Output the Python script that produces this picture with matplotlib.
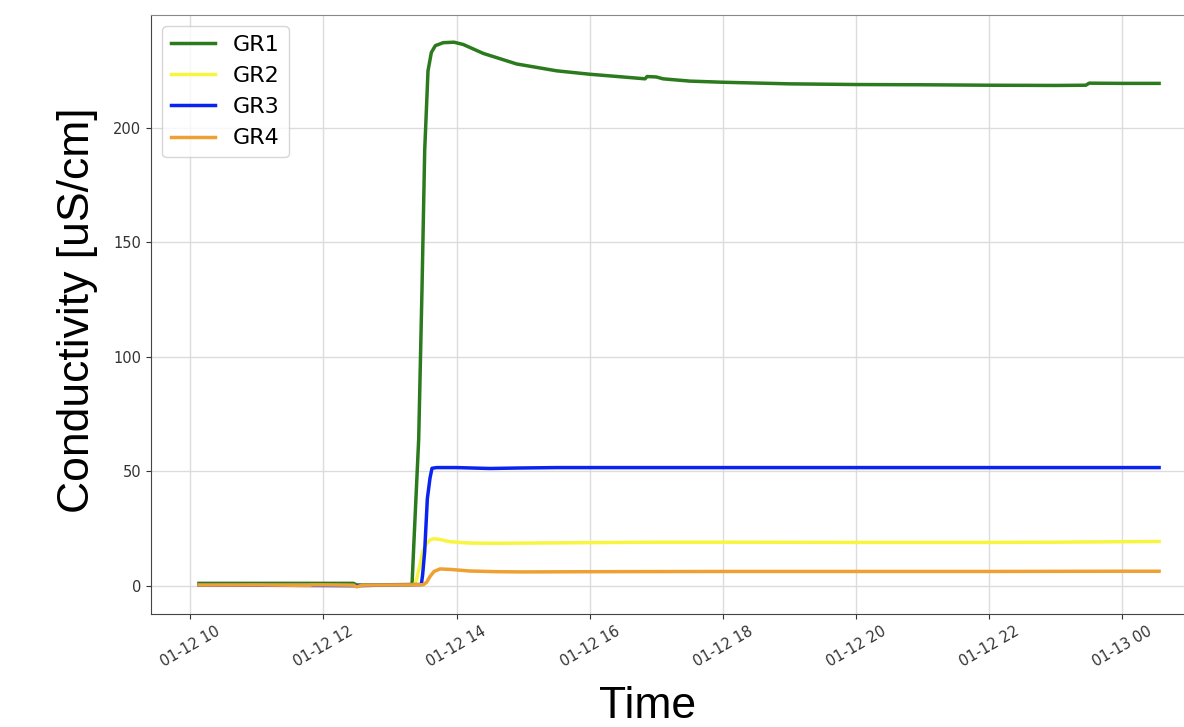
import numpy as np
import pandas as pd
import matplotlib
matplotlib.use("Agg")
import matplotlib.pyplot as plt
import matplotlib.dates as mdates

# Readings, time given as hours since midnight of 01-12
gr1_hours = [10.13, 11.0, 11.8, 12.0, 12.45, 12.5, 13.0, 13.33, 13.36, 13.43, 13.48, 13.52,
             13.57, 13.62, 13.68, 13.8, 13.96, 14.1, 14.4, 14.9, 15.5, 16.0, 16.5, 16.83,
             16.86, 17.0, 17.1, 17.5, 18.0, 19.0, 20.0, 21.0, 22.0, 23.0, 23.45, 23.5, 24.0, 24.55]
gr1_vals = [1.0, 1.0, 1.0, 1.0, 1.0, 0.3, 0.4, 0.5, 20, 64, 130, 190,
            225, 233, 236, 237.3, 237.5, 236.5, 232.6, 228, 225, 223.5, 222.3, 221.5,
            222.5, 222.3, 221.5, 220.5, 220, 219.3, 219, 218.9, 218.7, 218.6, 218.7, 219.6, 219.5, 219.5]

gr2_hours = [10.13, 11.8, 12.5, 13.0, 13.37, 13.40, 13.45, 13.49, 13.55, 13.6, 13.66, 13.75,
             13.9, 14.2, 14.6, 15.0, 16.0, 17.0, 18.0, 20.0, 22.0, 23.0, 24.0, 24.55]
gr2_vals = [0.3, 0.3, 0.0, 0.3, 0.5, 3, 9, 15, 18.5, 20, 20.5, 20.2,
            19.2, 18.6, 18.5, 18.6, 18.8, 19.0, 19.0, 18.9, 18.9, 19.0, 19.2, 19.3]

gr3_hours = [10.13, 12.5, 13.0, 13.47, 13.49, 13.52, 13.56, 13.60, 13.63, 13.7, 14.0, 14.5,
             14.9, 15.5, 16.0, 18.0, 20.0, 22.0, 24.0, 24.55]
gr3_vals = [0.3, 0.0, 0.3, 0.5, 5, 15, 38, 47, 51.3, 51.6, 51.6, 51.2,
            51.4, 51.6, 51.6, 51.6, 51.6, 51.6, 51.6, 51.6]

gr4_hours = [10.13, 11.0, 11.8, 11.82, 12.0, 12.45, 12.5, 12.58, 13.0, 13.5, 13.55, 13.6,
             13.66, 13.75, 13.9, 14.2, 14.6, 15.0, 16.0, 18.0, 20.0, 22.0, 24.0, 24.55]
gr4_vals = [0.3, 0.3, 0.1, 0.3, 0.3, 0.2, -0.5, 0.2, 0.3, 0.4, 1.5, 4,
            6.2, 7.3, 7.1, 6.4, 6.1, 6.0, 6.1, 6.2, 6.2, 6.2, 6.3, 6.3]

labels = ["GR1", "GR2", "GR3", "GR4"]
colors = ["#2b7a1e", "#f7f540", "#0a24f0", "#eea032"]

base = pd.Timestamp("2023-01-12")


def to_time(hours):
    return base + pd.to_timedelta(np.array(hours), unit="h")


fig = plt.figure(figsize=(11.84, 7.27), dpi=100)
# axes runs past the right edge, like the cropped original
ax = fig.add_axes([0.1275, 0.1554, 0.892, 0.824])

series = [(gr1_hours, gr1_vals), (gr2_hours, gr2_vals), (gr3_hours, gr3_vals), (gr4_hours, gr4_vals)]
for (h, v), lab, col in zip(series, labels, colors):
    ax.plot(to_time(h), v, color=col, linewidth=2.5, label=lab)

ax.xaxis.set_major_locator(mdates.HourLocator(byhour=range(0, 24, 2)))
ax.xaxis.set_major_formatter(mdates.DateFormatter("%m-%d %H"))
ax.set_yticks([0, 50, 100, 150, 200])

ax.grid(True, color="#dcdcdc", linewidth=1)
ax.set_axisbelow(True)
for s in ["left", "bottom"]:
    ax.spines[s].set_color("#444444")
ax.spines["top"].set_color("#888888")
ax.tick_params(labelsize=10.5, colors="#333333")
plt.setp(ax.get_xticklabels(), rotation=30, ha="center")

ax.set_xlabel("Time", fontsize=32, family="Liberation Sans")
ax.set_ylabel("Conductivity [uS/cm]", fontsize=32, family="Liberation Sans")
ax.xaxis.set_label_coords(0.4706, -0.12)
ax.yaxis.set_label_coords(-0.050, 0.5075)

ax.legend(loc="upper left", fontsize=16)

fig.savefig("out.png", dpi=100)
